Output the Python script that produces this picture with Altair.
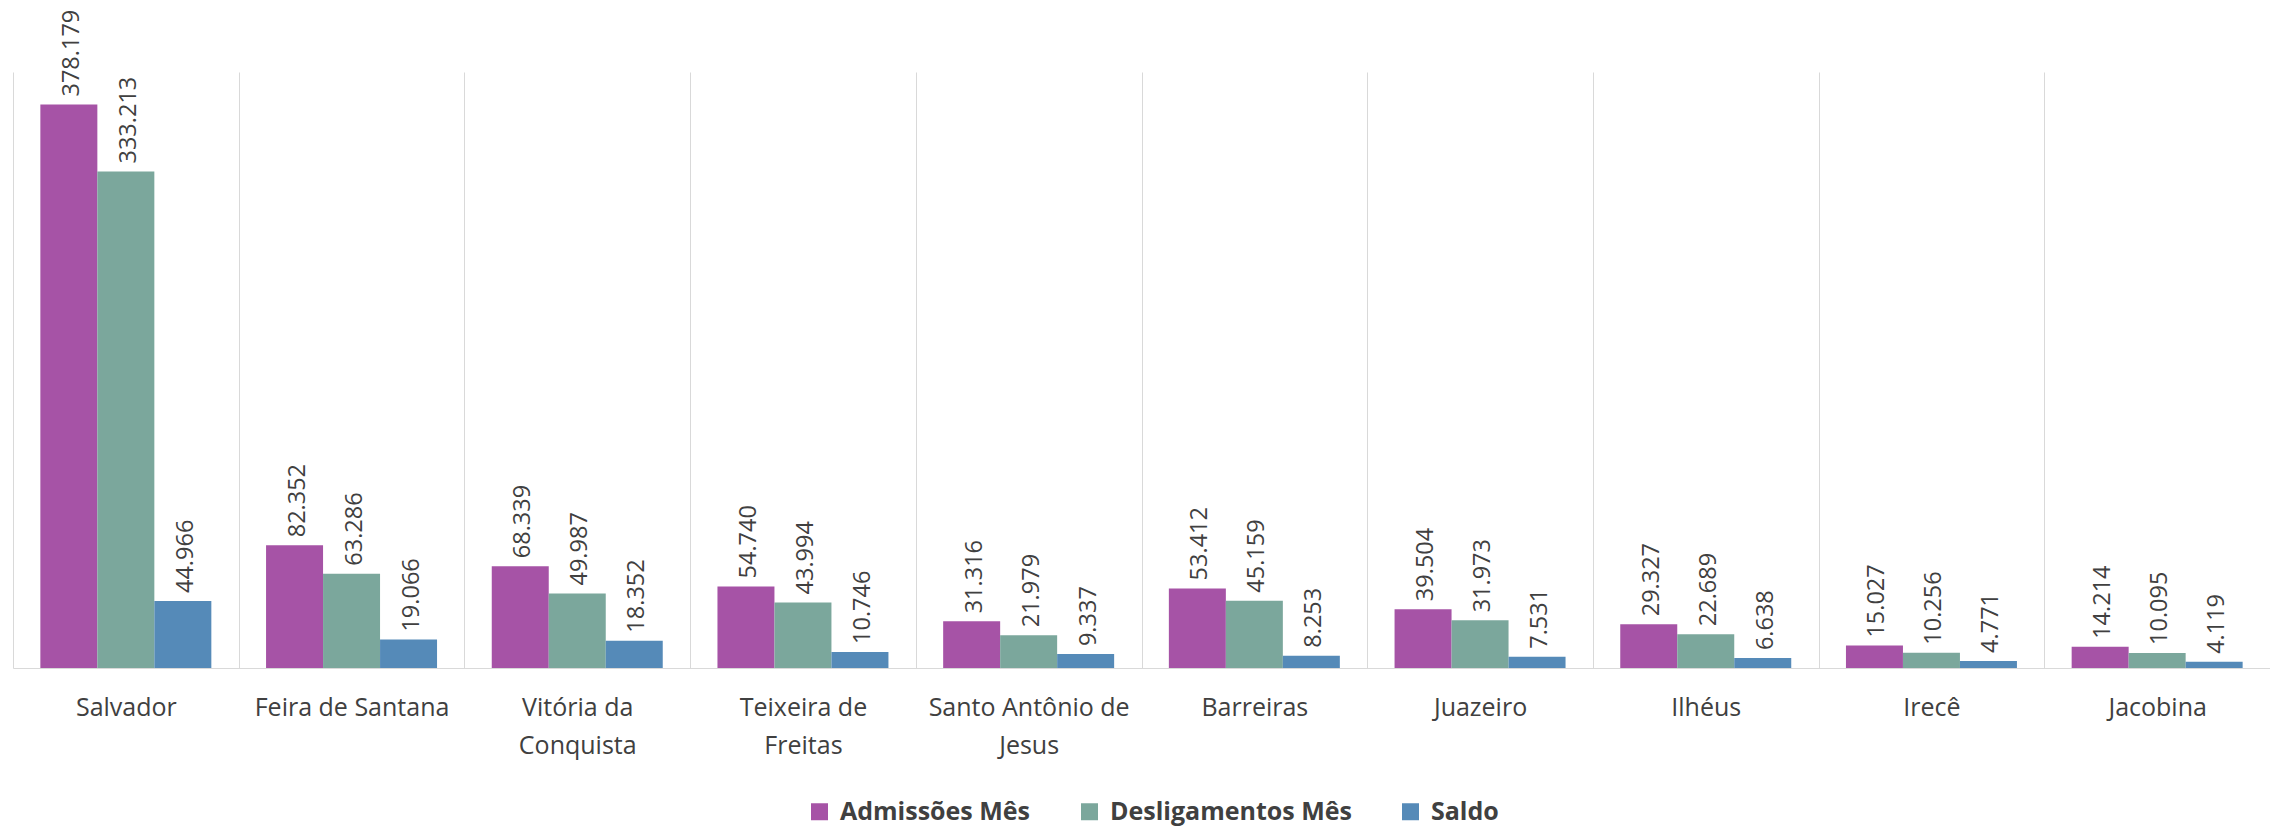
import altair as alt
import pandas as pd

cities = ["Salvador", "Feira de Santana", "Vitória da Conquista", "Teixeira de Freitas",
          "Santo Antônio de Jesus", "Barreiras", "Juazeiro", "Ilhéus", "Irecê", "Jacobina"]
series = ["Admissões Mês", "Desligamentos Mês", "Saldo"]
admissoes = [378179, 82352, 68339, 54740, 31316, 53412, 39504, 29327, 15027, 14214]
desligamentos = [333213, 63286, 49987, 43994, 21979, 45159, 31973, 22689, 10256, 10095]
saldo = [44966, 19066, 18352, 10746, 9337, 8253, 7531, 6638, 4771, 4119]
colors = ["#A653A6", "#7BA79C", "#558AB8"]
wrapped = {
    "Vitória da Conquista": ["Vitória da", "Conquista"],
    "Teixeira de Freitas": ["Teixeira de", "Freitas"],
    "Santo Antônio de Jesus": ["Santo Antônio de", "Jesus"],
}

rows = []
for s, vals in zip(series, [admissoes, desligamentos, saldo]):
    for c, v in zip(cities, vals):
        rows.append({"city": c, "series": s, "value": v,
                     "label": f"{v:,}".replace(",", ".")})
df = pd.DataFrame(rows)

expr = ""
for k, parts in wrapped.items():
    arr = "[" + ",".join(f"'{p}'" for p in parts) + "]"
    expr += f"datum.label == '{k}' ? {arr} : "
expr += "datum.label"

W, H = 2257, 596
yscale = alt.Scale(domain=[0, 400000])

base = alt.Chart(df).encode(
    x=alt.X("city:N", sort=cities,
            scale=alt.Scale(paddingInner=0, paddingOuter=0),
            axis=alt.Axis(title=None, labelAngle=0, ticks=False, grid=True,
                          tickBand="extent", gridColor="#d9d9d9",
                          domainColor="#d9d9d9", labelFont="Open Sans",
                          labelFontSize=25, labelColor="#404040",
                          labelPadding=27, labelLineHeight=38,
                          labelExpr=expr, labelLimit=400)),
    xOffset=alt.XOffset("series:N", sort=series,
                        scale=alt.Scale(paddingInner=0, paddingOuter=0.48)),
)

bars = base.mark_bar().encode(
    y=alt.Y("value:Q", scale=yscale, axis=None),
    color=alt.Color("series:N", sort=series,
                    scale=alt.Scale(domain=series, range=colors),
                    legend=alt.Legend(title=None, orient="none", legendX=794,
                                      legendY=727, direction="horizontal",
                                      symbolType="square", symbolSize=289,
                                      symbolStrokeWidth=0, labelFont="Open Sans",
                                      labelFontWeight="bold", labelFontSize=25,
                                      labelColor="#404040", labelOffset=8,
                                      columnPadding=46, padding=0, labelLimit=500)),
)

text = base.mark_text(angle=270, align="left", baseline="middle", dx=8, dy=3,
                      font="Open Sans", fontSize=23.5, color="#404040").encode(
    y=alt.Y("value:Q", scale=yscale, axis=None),
    text="label:N",
)

chart = alt.layer(bars, text).properties(
    width=W, height=H,
    padding={"left": 5, "top": 64, "right": 0, "bottom": 161},
    autosize=alt.AutoSizeParams(type="none"),
).configure_view(stroke=None)

chart.save("out.html", embed_options={"renderer": "svg", "actions": False})
